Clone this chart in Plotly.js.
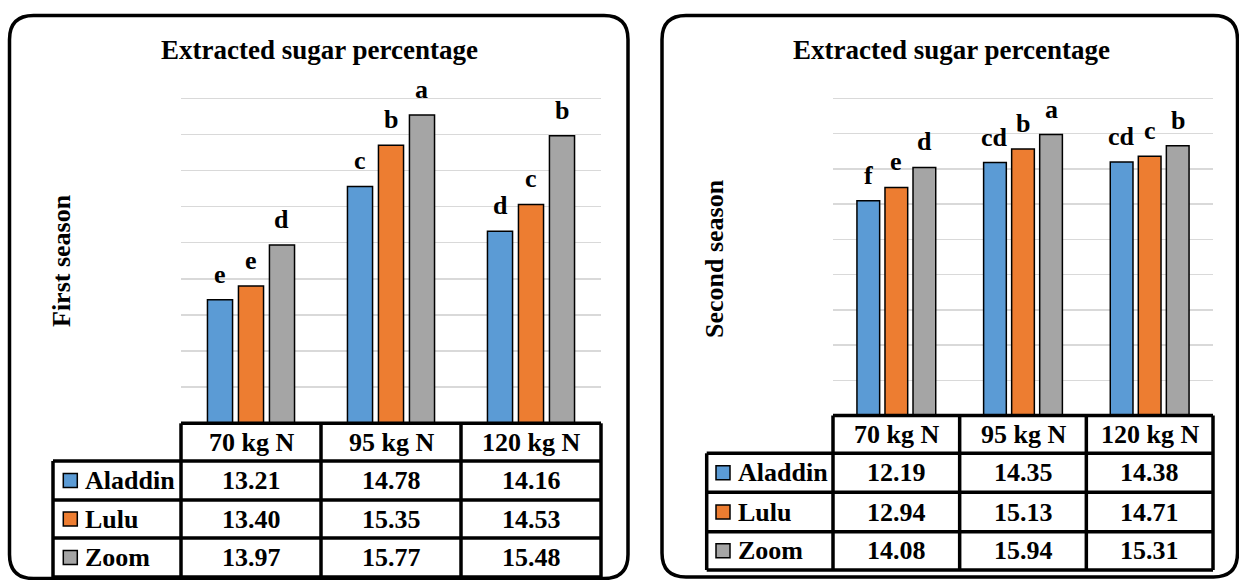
<!DOCTYPE html>
<html><head><meta charset="utf-8">
<script src="https://cdn.plot.ly/plotly-3.0.1.min.js"></script>
<style>html,body{margin:0;padding:0;background:#fff;}#chart{width:1239px;height:580px;}</style>
</head><body><div id="chart"></div>
<script>
// ---------- DATA ----------
const categories = ['70 kg N', '95 kg N', '120 kg N'];
const varieties = ['Aladdin', 'Lulu', 'Zoom'];
const colors = ['#5B9BD5', '#ED7D31', '#A5A5A5'];

const s1Aladdin = [13.21, 14.78, 14.16];
const s1Lulu    = [13.40, 15.35, 14.53];
const s1Zoom    = [13.97, 15.77, 15.48];
const s1AladdinLetters = ['e', 'c', 'd'];
const s1LuluLetters    = ['e', 'b', 'c'];
const s1ZoomLetters    = ['d', 'a', 'b'];

const s2Aladdin = [12.19, 14.35, 14.38];
const s2Lulu    = [12.94, 15.13, 14.71];
const s2Zoom    = [14.08, 15.94, 15.31];
const s2AladdinLetters = ['f', 'cd', 'cd'];
const s2LuluLetters    = ['e', 'b', 'c'];
const s2ZoomLetters    = ['d', 'a', 'b'];

const panelTitle = 'Extracted sugar percentage';
const seasonTitles = ['First season', 'Second season'];
const s1Range = [11.5, 16];
const s2Range = [0, 18];

// ---------- LAYOUT HELPERS ----------
const W = 1239, H = 580;
const px = x => x / W;
const py = y => 1 - y / H;
const FONT = 'Liberation Serif';
const BARGAP = 0.336, BARGROUPGAP = 0.19;
const f = (size) => ({ family: FONT, size: size, color: '#000', weight: 'bold' });
const PAD = 3; // extra px above top gridline so it is drawn

const panels = [
  { xa: 'x', ya: 'y', xd: [181, 601], yd: [98.3, 423.3], range: s1Range, dtick: 0.5,
    rows: [461, 500, 538, 577], labelLeft: 53, box: [9.5, 15.5, 628, 578.5],
    titleX: 319.5, titleY: 50, ytX: 61, ytY: 261, keyX: 63.3, textX: 82.7,
    series: [s1Aladdin, s1Lulu, s1Zoom], letters: [s1AladdinLetters, s1LuluLetters, s1ZoomLetters] },
  { xa: 'x2', ya: 'y2', xd: [833, 1213], yd: [98.3, 415.5], range: s2Range, dtick: 2,
    rows: [453.3, 492.3, 531.7, 570], labelLeft: 706.7, box: [662, 15.5, 1237.5, 577],
    titleX: 951.5, titleY: 50, ytX: 714, ytY: 259, keyX: 716, textX: 735.7,
    series: [s2Aladdin, s2Lulu, s2Zoom], letters: [s2AladdinLetters, s2LuluLetters, s2ZoomLetters] }
];

function roundRect(x0, y0, x1, y1, r) {
  const P = (x, y) => px(x) + ',' + py(y);
  return 'M' + P(x0 + r, y0) + ' L' + P(x1 - r, y0) + ' Q' + P(x1, y0) + ' ' + P(x1, y0 + r) +
    ' L' + P(x1, y1 - r) + ' Q' + P(x1, y1) + ' ' + P(x1 - r, y1) +
    ' L' + P(x0 + r, y1) + ' Q' + P(x0, y1) + ' ' + P(x0, y1 - r) +
    ' L' + P(x0, y0 + r) + ' Q' + P(x0, y0) + ' ' + P(x0 + r, y0) + ' Z';
}
function hline(x0, x1, y, w) {
  return { type: 'line', xref: 'paper', yref: 'paper', x0: px(x0), x1: px(x1), y0: py(y), y1: py(y),
    line: { color: '#000', width: w } };
}
function vline(x, y0, y1, w) {
  return { type: 'line', xref: 'paper', yref: 'paper', x0: px(x), x1: px(x), y0: py(y0), y1: py(y1),
    line: { color: '#000', width: w } };
}

const traces = [];
const annotations = [];
const shapes = [];
const layout = {
  width: W, height: H, margin: { l: 0, r: 0, t: 0, b: 0 },
  paper_bgcolor: '#fff', plot_bgcolor: '#fff',
  barmode: 'group', bargap: BARGAP, bargroupgap: BARGROUPGAP,
  showlegend: false, font: { family: FONT, color: '#000' }
};

panels.forEach((p, k) => {
  const xName = k === 0 ? 'xaxis' : 'xaxis2';
  const yName = k === 0 ? 'yaxis' : 'yaxis2';
  const hPx = p.yd[1] - p.yd[0];
  const rTop = p.range[1] + PAD / hPx * (p.range[1] - p.range[0]);
  layout[xName] = { domain: [px(p.xd[0]), px(p.xd[1])], anchor: p.ya, type: 'category',
    showticklabels: false, showgrid: false, zeroline: false, showline: false, ticks: '', fixedrange: true };
  layout[yName] = { domain: [py(p.yd[1]), py(p.yd[0] - PAD)], anchor: p.xa, range: [p.range[0], rTop], dtick: p.dtick,
    tick0: 0, showgrid: true, gridcolor: '#d9d9d9', gridwidth: 1.5, showticklabels: false,
    zeroline: false, showline: false, ticks: '', fixedrange: true };

  const catW = (p.xd[1] - p.xd[0]) / categories.length;
  const spacing = catW * (1 - BARGAP) / varieties.length;

  p.series.forEach((vals, i) => {
    traces.push({ type: 'bar', name: varieties[i], x: categories, y: vals, xaxis: p.xa, yaxis: p.ya,
      marker: { color: colors[i], line: { color: '#000', width: 1.5 } }, hoverinfo: 'x+y+name' });
    vals.forEach((v, j) => {
      annotations.push({ xref: p.xa, yref: p.ya, x: categories[j], y: v, text: '<b>' + p.letters[i][j] + '</b>',
        showarrow: false, yanchor: 'bottom', xanchor: 'center', xshift: (i - 1) * spacing, yshift: 9,
        font: f(26) });
    });
  });

  // titles
  annotations.push({ xref: 'paper', yref: 'paper', x: px(p.titleX), y: py(p.titleY), text: '<b>' + panelTitle + '</b>',
    showarrow: false, xanchor: 'center', yanchor: 'middle', font: f(27) });
  annotations.push({ xref: 'paper', yref: 'paper', x: px(p.ytX), y: py(p.ytY), text: '<b>' + seasonTitles[k] + '</b>',
    showarrow: false, textangle: -90, xanchor: 'center', yanchor: 'middle', font: f(26) });

  // panel border
  shapes.push({ type: 'path', xref: 'paper', yref: 'paper', path: roundRect(p.box[0], p.box[1], p.box[2], p.box[3], 24),
    line: { color: '#000', width: 3.5 }, fillcolor: 'rgba(0,0,0,0)', layer: 'below' });

  // data table
  const top = p.yd[1];
  const rowEdges = [top].concat(p.rows);
  const colEdges = [0, 1, 2, 3].map(c => p.xd[0] + c * catW);
  const LW = 3.5;
  shapes.push(hline(p.xd[0], p.xd[1], top, LW));
  p.rows.forEach(y => shapes.push(hline(p.labelLeft, p.xd[1], y, LW)));
  shapes.push(vline(p.labelLeft, p.rows[0], p.rows[p.rows.length - 1], LW));
  colEdges.forEach(x => shapes.push(vline(x, top, p.rows[p.rows.length - 1], LW)));

  const headerMid = (rowEdges[0] + rowEdges[1]) / 2;
  categories.forEach(c => {
    annotations.push({ xref: p.xa, yref: 'paper', x: c, y: py(headerMid), text: '<b>' + c + '</b>',
      showarrow: false, xanchor: 'center', yanchor: 'middle', font: f(26) });
  });
  p.series.forEach((vals, i) => {
    const mid = (rowEdges[i + 1] + rowEdges[i + 2]) / 2;
    vals.forEach((v, j) => {
      annotations.push({ xref: p.xa, yref: 'paper', x: categories[j], y: py(mid), text: '<b>' + v.toFixed(2) + '</b>',
        showarrow: false, xanchor: 'center', yanchor: 'middle', font: f(26) });
    });
    annotations.push({ xref: 'paper', yref: 'paper', x: px(p.textX), y: py(mid), text: '<b>' + varieties[i] + '</b>',
      showarrow: false, xanchor: 'left', yanchor: 'middle', font: f(26) });
    shapes.push({ type: 'rect', xref: 'paper', yref: 'paper', x0: px(p.keyX), x1: px(p.keyX + 14),
      y0: py(mid + 7), y1: py(mid - 7), fillcolor: colors[i], line: { color: '#000', width: 1.5 } });
  });
});

layout.annotations = annotations;
layout.shapes = shapes;
Plotly.newPlot('chart', traces, layout, { staticPlot: true, displayModeBar: false });
</script>
</body></html>
